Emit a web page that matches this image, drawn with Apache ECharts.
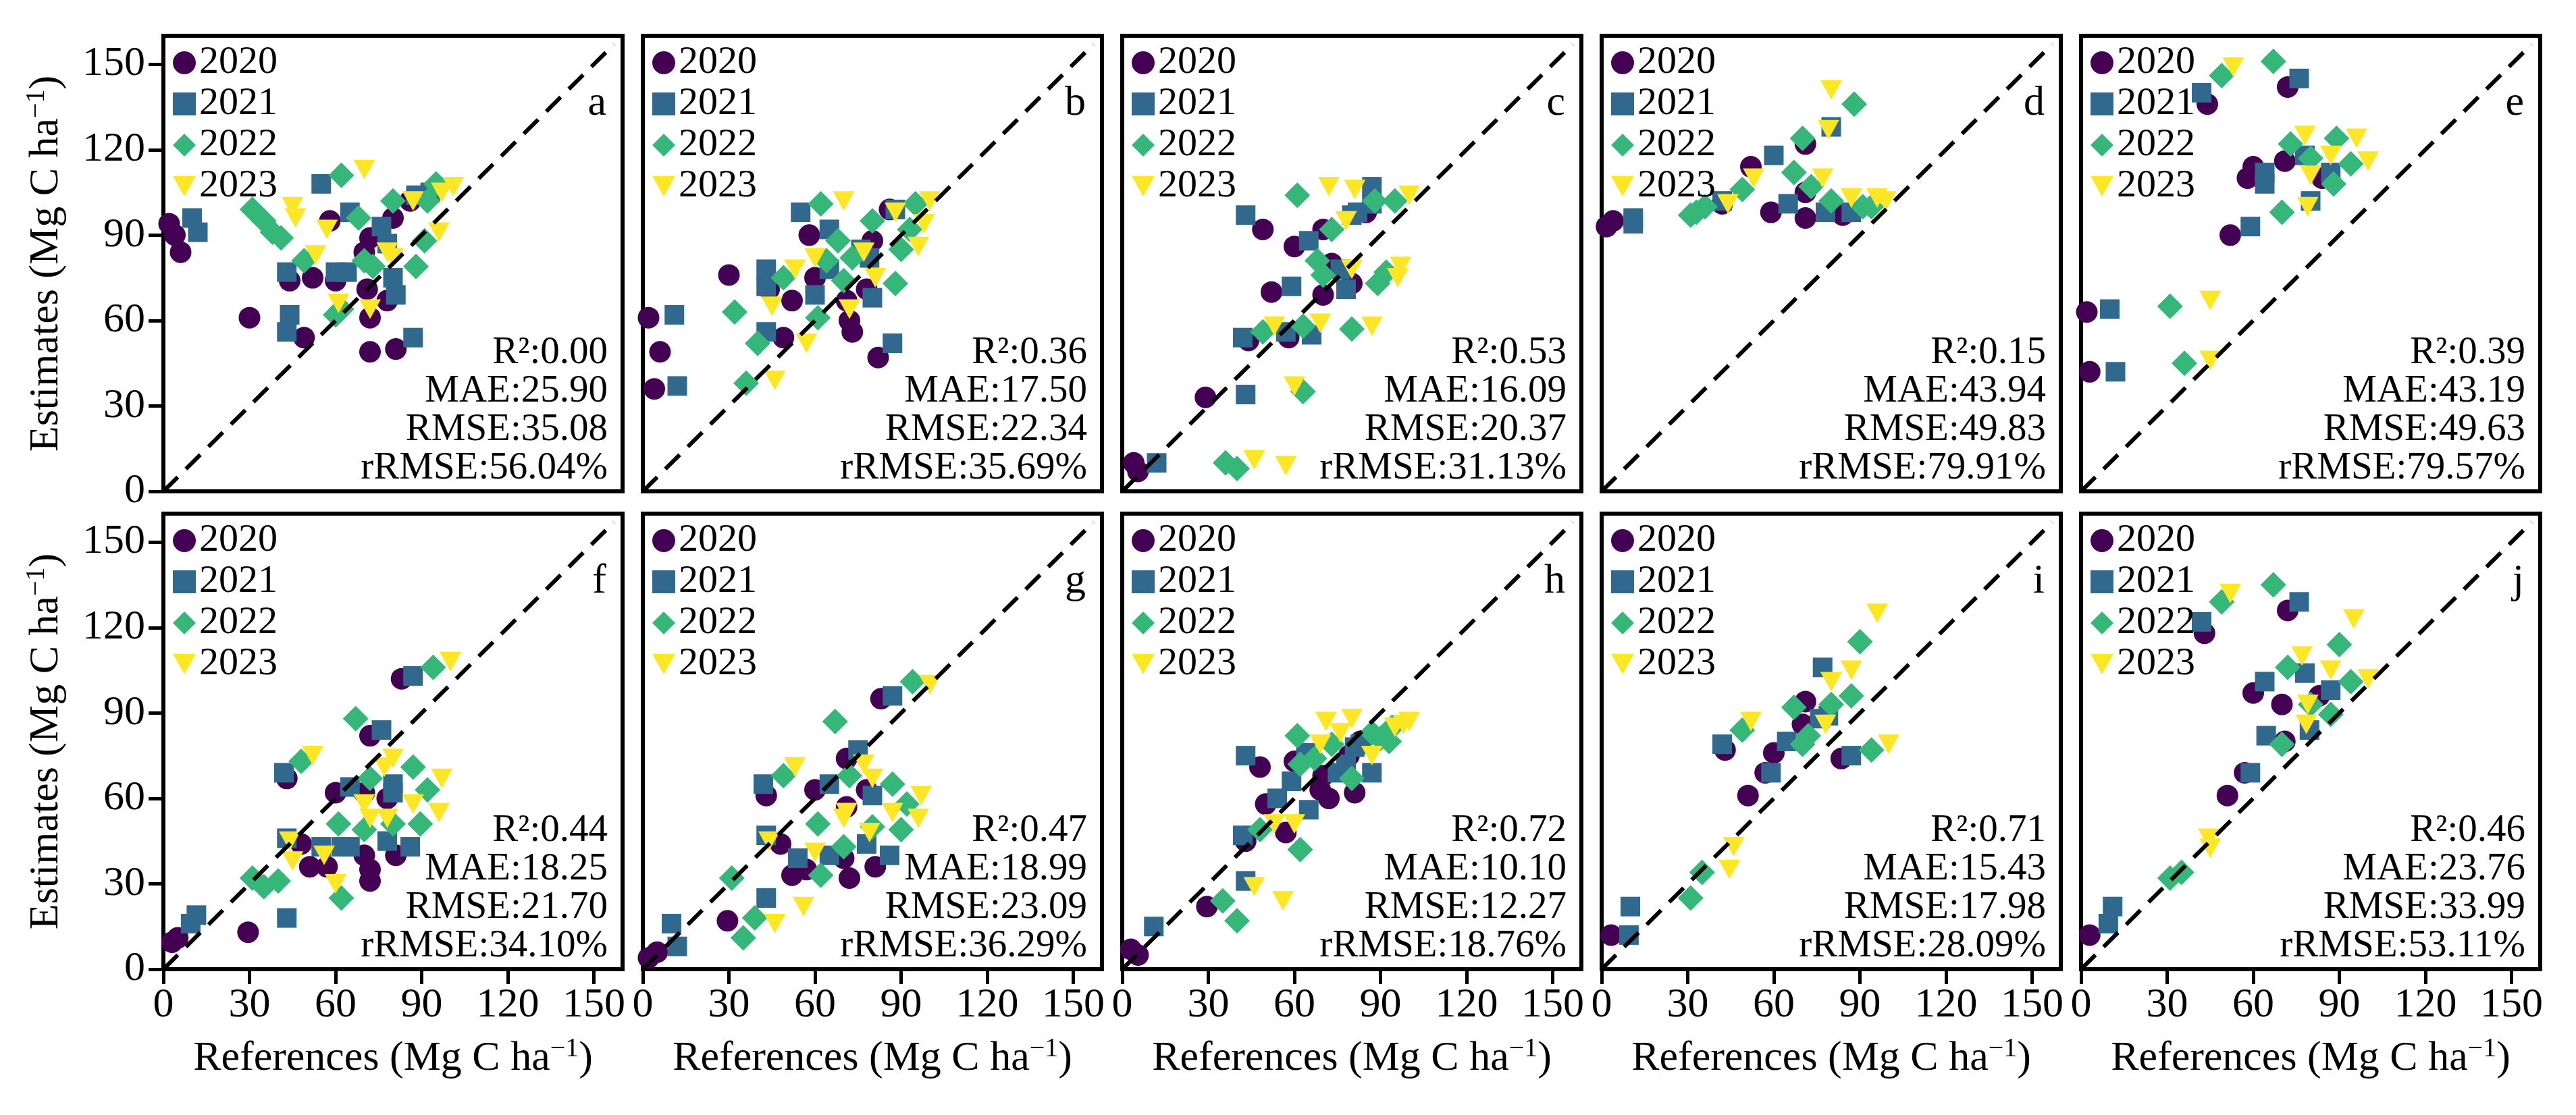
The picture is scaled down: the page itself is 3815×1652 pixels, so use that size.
<!DOCTYPE html>
<html>
<head>
<meta charset="utf-8">
<title>Estimates vs References</title>
<script src="https://cdn.jsdelivr.net/npm/echarts@6/dist/echarts.min.js"></script>
<style>
    html, body { margin: 0; padding: 0; background: #fff; }
    #chart { width: 3815px; height: 1652px; }
</style>
</head>
<body>
<div id="chart"></div>
<script>
// 年份 / 刻度
const years = ['2020', '2021', '2022', '2023'];
const tickValues = [0, 30, 60, 90, 120, 150];
const axisMax = 160;
const diagonal = [0, 157];
const letters = ['a', 'b', 'c', 'd', 'e', 'f', 'g', 'h', 'i', 'j'];

// 精度指标
const r2 = ['0.00', '0.36', '0.53', '0.15', '0.39', '0.44', '0.47', '0.72', '0.71', '0.46'];
const mae = ['25.90', '17.50', '16.09', '43.94', '43.19', '18.25', '18.99', '10.10', '15.43', '23.76'];
const rmse = ['35.08', '22.34', '20.37', '49.83', '49.63', '21.70', '23.09', '12.27', '17.98', '33.99'];
const rrmse = ['56.04', '35.69', '31.13', '79.91', '79.57', '34.10', '36.29', '18.76', '28.09', '53.11'];

// [reference, estimate]
const a2020 = [[2,94],[4,90],[6,84],[30,61],[44,74],[49,54],[52,75],[58,95],[60,74],[70,84],[71,71],[72,89],[72,61],[72,49],[78,67],[80,96],[81,50],[86,102]];
const a2021 = [[10,96],[12,91],[43,77],[44,62],[43,56],[55,108],[60,77],[64,77],[65,98],[76,93],[78,87],[80,75],[81,69],[87,54],[88,104],[93,105]];
const a2022 = [[31,99],[35,95],[38,91],[41,89],[49,81],[62,111],[60,62],[62,64],[68,96],[70,81],[73,79],[80,102],[88,79],[91,88],[92,102],[95,108]];
const a2023 = [[45,100],[46,96],[53,83],[57,92],[61,66],[70,113],[72,64],[78,84],[80,82],[87,102],[96,91],[97,105],[101,107]];

const b2020 = [[2,61],[6,49],[4,36],[30,76],[44,71],[49,54],[52,67],[58,90],[60,75],[71,67],[72,60],[73,56],[78,71],[80,88],[82,47],[86,99]];
const b2021 = [[11,62],[12,37],[43,78],[43,72],[43,56],[55,98],[60,69],[65,92],[65,78],[76,85],[79,82],[80,68],[87,52],[88,99]];
const b2022 = [[32,63],[36,38],[40,52],[49,75],[61,61],[62,101],[64,81],[68,88],[70,74],[73,82],[80,95],[88,73],[90,85],[93,92],[95,101]];
const b2023 = [[45,65],[46,39],[53,78],[57,52],[60,82],[70,102],[72,64],[77,84],[81,75],[88,98],[96,86],[98,94],[100,102]];

const c2020 = [[4,10],[5.5,7],[29,33],[44,53],[49,92],[52,70],[58,54],[60,86],[70,69],[70,92],[73,80],[80,73],[85,98]];
const c2021 = [[12,10],[42,54],[43,34],[43,97],[57,56],[59,72],[65,88],[66,55],[76,78],[78,71],[80,97],[82,98],[87,107],[87,101]];
const c2022 = [[36,10],[40,8],[49,56],[61,104],[63,35],[63,58],[68,81],[70,76],[73,92],[80,57],[88,102],[89,73],[92,77],[95,102]];
const c2023 = [[46,11],[57,9],[53,58],[60,37],[69,59],[72,107],[78,95],[80,78],[81,106],[87,58],[96,75],[97,79],[100,104]];

const d2020 = [[1.7,93],[4,95],[42,101],[52,114],[59,98],[71,96],[71,105],[71,122],[84,97]];
const d2021 = [[11,96],[11,94],[42,102],[60,118],[65,101],[78,98],[80,128],[87,98]];
const d2022 = [[31,97],[33,98],[36,100],[49,106],[67,112],[70,124],[73,107],[80,102],[88,136],[91,100],[94,100]];
const d2023 = [[44,101],[53,110],[77,110],[79,127],[80,141],[87,103],[96,103],[99,102]];

const e2020 = [[2,63],[3,42],[44,136],[52,90],[58,110],[60,114],[71,116],[72,142],[84,110]];
const e2021 = [[10,64],[12,42],[42,140],[59,93],[64,112],[64,108],[76,145],[78,118],[80,102],[87,112]];
const e2022 = [[31,65],[36,45],[49,146],[67,151],[70,98],[73,122],[80,117],[88,108],[89,124],[94,115]];
const e2023 = [[45,67],[45,46],[53,149],[78,125],[80,111],[79,100],[87,118],[96,124],[100,116]];

const f2020 = [[3,9.5],[5,11],[29.5,13],[43,67],[48,44],[51,36],[57,36],[60,62],[70,40],[72,35],[72,31],[70,62],[72,82],[78,60],[81,40],[83,102]];
const f2021 = [[9.5,16],[11.5,19],[43,18],[42,69],[43,46],[55,43],[62,43],[65,43],[65,64],[76,84],[78,45],[80,65],[80,62],[86,43],[87,103]];
const f2022 = [[31,32],[35,29],[40,31],[48,73],[61,51],[62,25],[67,88],[70,49],[72,67],[80,51],[87,71],[89.5,51],[92,63],[94,106]];
const f2023 = [[44,45],[45,38],[52,75],[56,40],[60,30],[70,58],[72,53],[78,53],[77,71],[80,74],[87,58],[96,55],[97,67],[100,108]];

const g2020 = [[2,4],[5,6],[29.5,17],[43,61],[48,44],[52,33],[57,35],[60,63],[70,39],[72,32],[71,57],[71,74],[78,63],[81,36],[83,95]];
const g2021 = [[10,16],[12,8],[43,25],[42,65],[43,47],[54,39],[65,65],[65,40],[75,77],[78,44],[80,61],[86,40],[87,96]];
const g2022 = [[31,32],[35,11],[39,18],[49,68],[61,51],[62,33],[67,87],[70,43],[72,68],[80,50],[87,65],[90,49],[92,58],[94,101]];
const g2023 = [[44,45],[46,16],[53,71],[56,22],[60,41],[70,53],[71,55],[79,48],[77,72],[80,67],[87,55],[96,53],[97,61],[100,100]];

const h2020 = [[3,7],[5.5,5],[29.5,22],[43,45],[48,71],[50,58],[57,48],[60,73],[69,63],[72,60],[70,68],[81,62],[79,75],[83,80]];
const h2021 = [[11,15],[43,31],[43,75],[42,47],[54,60],[59,66],[65,56],[64,76],[75,69],[78,72],[81,78],[87,69],[83,79]];
const h2022 = [[35,24],[40,17],[48,49],[62,42],[61,82],[62,72],[67,74],[73,79],[80,67],[87,83],[90,81],[93,80],[94,85]];
const h2023 = [[46,29],[56,24],[53,51],[60,51],[69,79],[71,87],[76,83],[80,88],[87,75],[95,85],[98,86],[100,87]];

const i2020 = [[3.3,12],[43,77],[51,61],[57,69],[60,76],[70,86],[71,94],[83.5,74]];
const i2021 = [[10,22],[9.5,12],[42,79],[59,69],[64.5,80],[77,106],[76,88],[79,89],[87,75]];
const i2022 = [[31,25],[35,34],[49,84],[67,92],[70,79],[72,82],[80,93],[87,96],[90,115],[94,77]];
const i2023 = [[44.5,35],[46,43],[52,87],[78,86],[80,101],[87,105],[96,125],[100,79]];

const j2020 = [[3,12],[43,118],[51,61],[57,69],[60,97],[70,93],[71,80],[72,126],[83,96]];
const j2021 = [[11,22],[9.5,16],[42,122],[59,69],[64,101],[64.5,82],[76,129],[78,104],[79.6,84],[87,98]];
const j2022 = [[31,32],[35,34],[49,129],[67,135],[70,79],[72,106],[80,93],[87,89.5],[90,114],[94,101]];
const j2023 = [[44.5,46],[45,42.5],[52,132],[77,110],[79,93],[78.5,86],[87,105],[95,123],[100,102]];

const panels = [
    [a2020, a2021, a2022, a2023],
    [b2020, b2021, b2022, b2023],
    [c2020, c2021, c2022, c2023],
    [d2020, d2021, d2022, d2023],
    [e2020, e2021, e2022, e2023],
    [f2020, f2021, f2022, f2023],
    [g2020, g2021, g2022, g2023],
    [h2020, h2021, h2022, h2023],
    [i2020, i2021, i2022, i2023],
    [j2020, j2021, j2022, j2023]
];

// 样式
const FONT = 'Liberation Serif';
const colors = ['#440154', '#31688e', '#35b779', '#fde725'];
const symbols = ['circle', 'rect', 'diamond', 'path://M0,0L20,0L10,18Z'];
const sizes = [32, 29, 38, [32, 29]];

const GRID_LEFT = 242, GRID_TOP = 53, COL_STEP = 710, ROW_STEP = 708;
const GRID_W = 680, GRID_H = 675;

const unitRich = {
    n: { fontSize: 62, fontFamily: FONT, color: '#000', lineHeight: 70 },
    s: { fontSize: 40, fontFamily: FONT, color: '#000', lineHeight: 44, verticalAlign: 'top' }
};

let myChart = echarts.init(document.getElementById('chart'));
let option = {
    animation: false,
    backgroundColor: '#fff',
    textStyle: { fontFamily: FONT },
    grid: [], xAxis: [], yAxis: [], legend: [], series: [], graphic: []
};

panels.forEach(function (sets, p) {
    let row = Math.floor(p / 5), col = p % 5;
    let left = GRID_LEFT + col * COL_STEP;
    let top = GRID_TOP + row * ROW_STEP;
    let bottomRow = row === 1, leftCol = col === 0;

    option.grid.push({
        left: left, top: top, width: GRID_W, height: GRID_H,
        show: true, borderColor: '#000', borderWidth: 6, backgroundColor: 'transparent'
    });

    option.xAxis.push({
        gridIndex: p, type: 'value', min: 0, max: axisMax,
        splitLine: { show: false },
        axisLine: { show: false },
        axisTick: { show: bottomRow, inside: false, length: 22, customValues: tickValues,
            lineStyle: { color: '#000', width: 5 } },
        axisLabel: { show: bottomRow, customValues: tickValues, margin: 23,
            fontSize: 62, fontFamily: FONT, color: '#000' },
        name: bottomRow ? '{n|References (Mg C ha}{s|\u22121}{n|)}' : '',
        nameLocation: 'middle', nameGap: 98,
        nameTextStyle: { fontFamily: FONT, rich: unitRich }
    });

    option.yAxis.push({
        gridIndex: p, type: 'value', min: 0, max: axisMax,
        splitLine: { show: false },
        axisLine: { show: false },
        axisTick: { show: leftCol, inside: false, length: 22, customValues: tickValues,
            lineStyle: { color: '#000', width: 5 } },
        axisLabel: { show: leftCol, customValues: tickValues, margin: 27,
            fontSize: 62, fontFamily: FONT, color: '#000' },
        name: leftCol ? '{n|Estimates (Mg C ha}{s|\u22121}{n|)}' : '',
        nameLocation: 'middle', nameGap: 138, nameRotate: 90,
        nameTextStyle: { fontFamily: FONT, rich: unitRich }
    });

    option.legend.push({
        data: years, orient: 'vertical',
        left: left + 14, top: top + 11,
        padding: 0, itemGap: 3, itemWidth: 34, itemHeight: 34,
        textStyle: { fontSize: 58, fontFamily: FONT, color: '#000', lineHeight: 56 }
    });

    sets.forEach(function (pts, k) {
        option.series.push({
            type: 'scatter', name: years[k],
            xAxisIndex: p, yAxisIndex: p,
            data: pts,
            symbol: symbols[k], symbolSize: sizes[k],
            itemStyle: { color: colors[k], opacity: 1 },
            z: 2
        });
    });

    // 1:1 线
    option.series.push({
        type: 'line', xAxisIndex: p, yAxisIndex: p,
        data: [[diagonal[0], diagonal[0]], [diagonal[1], diagonal[1]]],
        symbol: 'none', silent: true,
        lineStyle: { color: '#000', width: 6, type: [30, 17] },
        z: 5
    });

    option.graphic.push({
        type: 'text', x: left + GRID_W - 22, y: top + GRID_H - 5, z: 10,
        style: {
            text: 'R\u00b2:' + r2[p] + '\nMAE:' + mae[p] + '\nRMSE:' + rmse[p] + '\nrRMSE:' + rrmse[p] + '%',
            fontSize: 57, fontFamily: FONT, fill: '#000',
            align: 'right', verticalAlign: 'bottom', lineHeight: 57
        }
    });
    option.graphic.push({
        type: 'text', x: left + GRID_W - 24, y: top + 101, z: 10,
        style: {
            text: letters[p], fontSize: 62, fontFamily: FONT, fill: '#000',
            align: 'right', verticalAlign: 'middle'
        }
    });
});

myChart.setOption(option);
window.addEventListener('resize', function () {
    myChart.resize();
});
</script>
</body>
</html>
